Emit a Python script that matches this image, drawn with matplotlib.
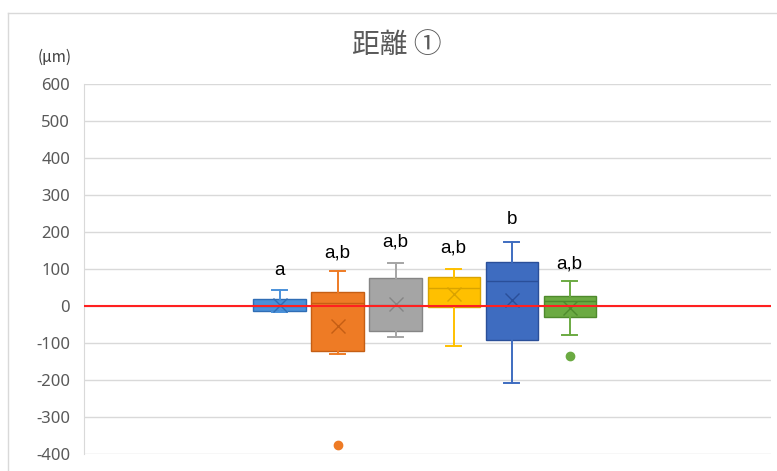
"""Box plot: 距離 ① (Excel-style)."""
import numpy as np
import matplotlib
matplotlib.use("Agg")
import matplotlib.pyplot as plt
from matplotlib.lines import Line2D

plt.rcParams["axes.unicode_minus"] = False

# values (µm)
whislo = [-16, -130, -86, -110, -208, -78]
q1     = [-14, -122, -68,   -4,  -92, -31]
med    = [  0,    8,   3,   47,   66,  12]
q3     = [ 18,   38,  76,   77,  117,  27]
whishi = [ 43,   95, 115,  100,  173,  68]
means  = [  3,  -54,   5,   32,   16,  -5]
fliers = [[], [-378], [], [], [], [-136]]
letters  = ["a", "a,b", "a,b", "a,b", "b", "a,b"]
letter_y = [94, 143, 173, 155, 232, 113]
yticks = list(range(-400, 601, 100))

FACE = ["#4A90D9", "#EE7B25", "#A5A5A5", "#FFC000", "#3E6CC0", "#6BAA42"]
EDGE = ["#2F6DB5", "#C55E14", "#858585", "#D9A300", "#2A4F99", "#4E8A2C"]

W, H = 777, 471
fig = plt.figure(figsize=(W / 100, H / 100), dpi=100)
ax = fig.add_axes([84 / W, 1 - 453.5 / H, (771 - 84) / W, (453.5 - 84) / H])

pos = np.arange(1, 7)
for i, p in enumerate(pos):
    st = dict(whislo=whislo[i], q1=q1[i], med=med[i], q3=q3[i], whishi=whishi[i],
              mean=means[i], fliers=np.array(fliers[i], dtype=float))
    ax.bxp([st], positions=[p], widths=0.9, capwidths=0.26, patch_artist=True,
           showmeans=True, manage_ticks=False,
           boxprops=dict(facecolor=FACE[i], edgecolor=EDGE[i], lw=1),
           whiskerprops=dict(color=FACE[i], lw=1.4),
           capprops=dict(color=FACE[i], lw=1.4),
           medianprops=dict(color=EDGE[i], lw=1),
           meanprops=dict(marker="x", markeredgecolor=EDGE[i], markersize=10,
                          markeredgewidth=1),
           flierprops=dict(marker="o", markerfacecolor=FACE[i], markeredgecolor=FACE[i],
                           markersize=6))
    ax.text(p, letter_y[i], letters[i], ha="center", va="center", fontsize=13.5,
            family="Liberation Sans", color="black", zorder=6)

ax.axhline(0, color="#FF2020", lw=1.5, zorder=5)

ax.set_xlim(1 - 3.37, 6 + 3.47)
ax.set_ylim(-400, 600)
ax.set_yticks(yticks)
ax.set_xticks([])
ax.yaxis.grid(True, color="#D9D9D9", lw=1)
ax.set_axisbelow(True)
for s in ["top", "right", "bottom"]:
    ax.spines[s].set_visible(False)
ax.spines["left"].set_color("#D9D9D9")
ax.tick_params(axis="y", length=0, pad=10, labelsize=12, labelcolor="#595959")
for t in ax.get_yticklabels():
    t.set_family("Noto Sans")

fig.text(397 / W, 1 - 45 / H, "距離 ①", ha="center", va="center", fontsize=20,
         color="#595959", family=["Noto Sans CJK JP", "DejaVu Sans"])
fig.text(55 / W, 1 - 57 / H, "(μm)", ha="center", va="center", fontsize=11,
         color="#404040", family=["Noto Sans CJK JP", "DejaVu Sans"])

# outer chart frame (cropped at right and bottom)
fig.add_artist(Line2D([8 / W, 1], [1 - 13 / H, 1 - 13 / H], color="#D9D9D9", lw=1))
fig.add_artist(Line2D([8 / W, 8 / W], [0, 1 - 13 / H], color="#D9D9D9", lw=1))

fig.savefig("out.png", dpi=100)
